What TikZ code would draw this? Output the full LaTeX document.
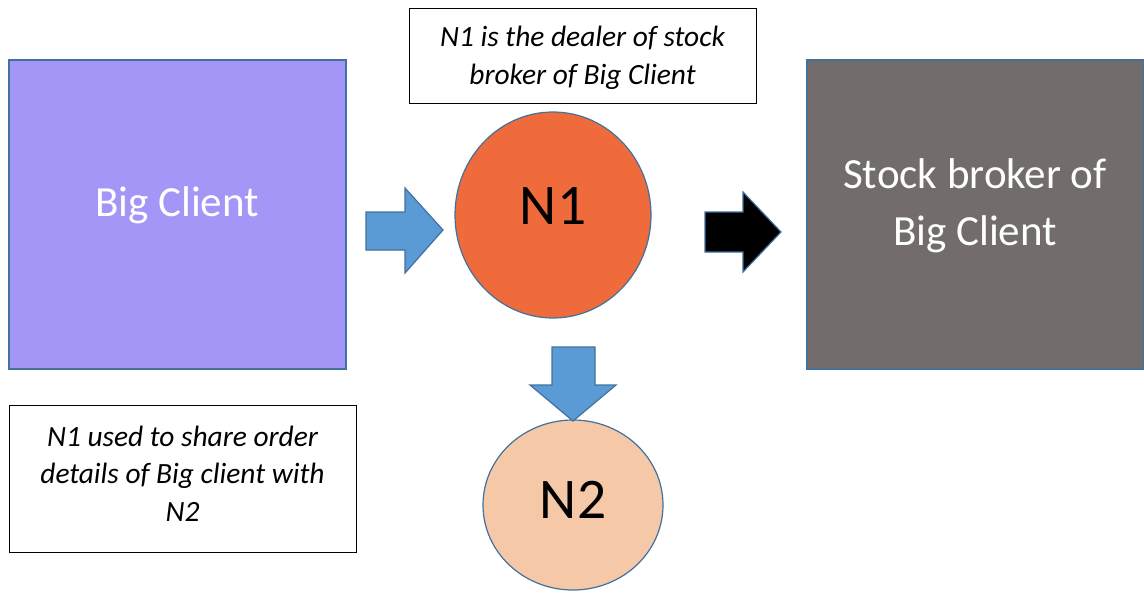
\documentclass[tikz,border=0pt]{standalone}
\usepackage{fontspec}
\usetikzlibrary{shapes.geometric}
\setmainfont{Carlito}
\definecolor{purpleBox}{RGB}{163,150,247}
\definecolor{grayBox}{RGB}{114,109,107}
\definecolor{orangeC}{RGB}{239,107,60}
\definecolor{peachC}{RGB}{245,200,168}
\definecolor{edgeBlue}{RGB}{65,113,156}
\definecolor{arrowBlue}{RGB}{91,155,213}
\begin{document}
\begin{tikzpicture}[x=1pt,y=-1pt,
  bigbox/.style={draw=edgeBlue,line width=1.5pt,inner sep=0pt},
  bigtext/.style={text=white,align=center,font=\fontsize{43}{57}\selectfont},
  circ/.style={ellipse,draw=edgeBlue,line width=1.2pt,inner sep=0pt},
  circtext/.style={font=\fontsize{57.5}{60}\selectfont},
  notebox/.style={draw=black,line width=1pt,inner sep=0pt},
  notetext/.style={inner sep=0pt,align=center,font=\itshape\fontsize{29.4}{37.5}\selectfont},
  blockarrow/.style={fill=arrowBlue,draw=edgeBlue,line width=1.2pt,line join=miter}]
\useasboundingbox (0,0) rectangle (1144,598);
\node[bigbox,fill=purpleBox,minimum width=337pt,minimum height=309pt] (client) at (177.5,214.5) {};
\node[bigtext] (clientText) at (177,205) {Big Client};
\node[bigbox,fill=grayBox,minimum width=337pt,minimum height=309pt] (broker) at (975.5,214.5) {};
\node[bigtext] (brokerText) at (975,206) {Stock broker of\\Big Client};
\node[circ,fill=orangeC,minimum width=196pt,minimum height=206pt] (n1) at (553,215) {};
\node[circtext] (n1Text) at (553,206) {N1};
\node[circ,fill=peachC,minimum width=180pt,minimum height=170pt] (n2) at (573,505) {};
\node[circtext] (n2Text) at (573,500) {N2};
\node[notebox,minimum width=347pt,minimum height=95pt] (note1) at (582.5,55.5) {};
\node[notetext] (note1Text) at (582.5,58) {N1 is the dealer of stock\\broker of Big Client};
\node[notebox,minimum width=347pt,minimum height=147pt] (note2) at (182.5,478.5) {};
\node[notetext] (note2Text) at (182.5,473.5) {N1 used to share order\\details of Big client with\\N2};
% blue right arrow
\coordinate (a1) at (366,212);
\draw[blockarrow] (a1) -- ++(39,0) -- ++(0,-24) -- ++(38,42) -- ++(-38,43) -- ++(0,-23) -- ++(-39,0) -- cycle;
% black right arrow
\coordinate (a2) at (705,212);
\draw[fill=black,draw=edgeBlue,line width=1.2pt,line join=miter] (a2) -- ++(38,0) -- ++(0,-20) -- ++(38,40) -- ++(-38,40) -- ++(0,-20) -- ++(-38,0) -- cycle;
% blue down arrow
\coordinate (a3) at (552,347);
\draw[blockarrow] (a3) -- ++(43,0) -- ++(0,38) -- ++(21,0) -- ++(-43,36) -- ++(-43,-36) -- ++(22,0) -- cycle;
\end{tikzpicture}
\end{document}
